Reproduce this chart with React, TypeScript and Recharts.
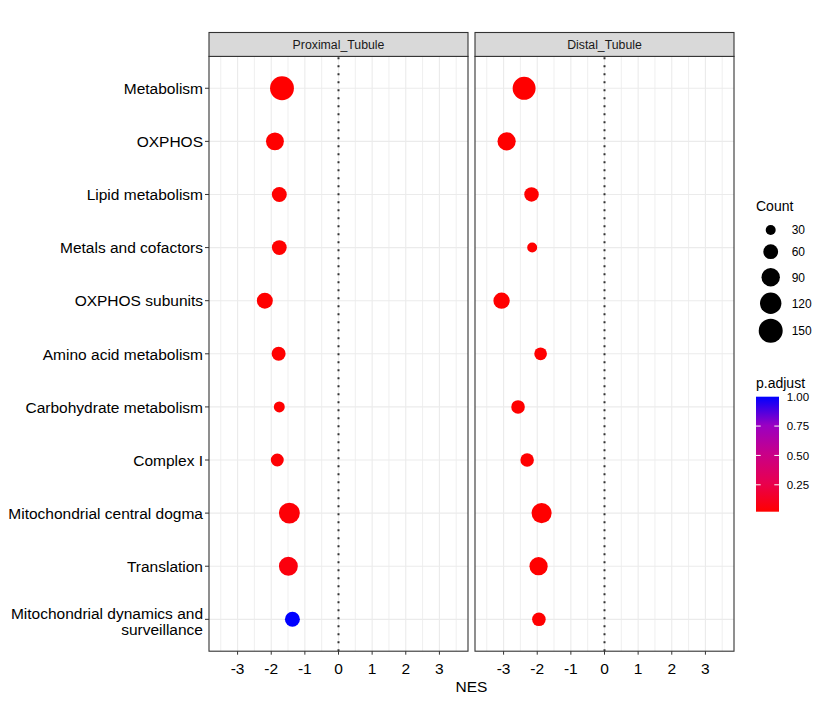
import { ScatterChart, Scatter, XAxis, YAxis, ZAxis, ReferenceLine, Cell } from 'recharts'

const terms = [
  'Metabolism',
  'OXPHOS',
  'Lipid metabolism',
  'Metals and cofactors',
  'OXPHOS subunits',
  'Amino acid metabolism',
  'Carbohydrate metabolism',
  'Complex I',
  'Mitochondrial central dogma',
  'Translation',
  'Mitochondrial dynamics and\nsurveillance',
]

const proximalNES = [-1.68, -1.89, -1.76, -1.76, -2.19, -1.78, -1.76, -1.82, -1.46, -1.49, -1.37]
const proximalCount = [148, 86, 61, 60, 69, 54, 35, 47, 115, 95, 61]
const proximalPadj = [0.021, 0.021, 0.022, 0.022, 0.021, 0.022, 0.025, 0.03, 0.04, 0.06, 1.0]

const distalNES = [-2.39, -2.91, -2.17, -2.15, -3.06, -1.9, -2.57, -2.3, -1.87, -1.96, -1.95]
const distalCount = [137, 86, 54, 25, 69, 41, 47, 47, 105, 86, 47]
const distalPadj = [0.021, 0.021, 0.022, 0.024, 0.021, 0.023, 0.022, 0.025, 0.022, 0.022, 0.025]

const xTicks = [-3, -2, -1, 0, 1, 2, 3]
const xGrid = [-3.5, -3, -2.5, -2, -1.5, -1, -0.5, 0, 0.5, 1, 1.5, 2, 2.5, 3, 3.5]
const countBreaks = [30, 60, 90, 120, 150]
const padjBreaks = [0.25, 0.5, 0.75, 1.0]

const panels = ['Proximal_Tubule', 'Distal_Tubule']

// ggplot red -> blue gradient (Lab interpolation, sampled)
const gradStops = ['#FF0000', '#E8004F', '#C90088', '#9A00C2', '#0000FF']
const padjMin = 0.021
const padjMax = 1.0

const hex = (c: string) => [1, 3, 5].map((i) => parseInt(c.slice(i, i + 2), 16))
const colorFor = (p: number) => {
  const t = Math.min(1, Math.max(0, (p - padjMin) / (padjMax - padjMin))) * (gradStops.length - 1)
  const i = Math.min(gradStops.length - 2, Math.floor(t))
  const f = t - i
  const a = hex(gradStops[i])
  const b = hex(gradStops[i + 1])
  const m = a.map((v, k) => Math.round(v + (b[k] - v) * f))
  return `rgb(${m[0]},${m[1]},${m[2]})`
}

const rows = terms.map((_, i) => i + 1)
const makeData = (nes: number[], count: number[], padj: number[]) =>
  terms.map((term, i) => ({ term, row: i + 1, nes: nes[i], count: count[i], padj: padj[i] }))

const proximalData = makeData(proximalNES, proximalCount, proximalPadj)
const distalData = makeData(distalNES, distalCount, distalPadj)

const sizeDomain = [30, 150]
const sizeRange = [78.5, 452.4]
const radiusFor = (c: number) =>
  Math.sqrt((sizeRange[0] + ((c - sizeDomain[0]) * (sizeRange[1] - sizeRange[0])) / (sizeDomain[1] - sizeDomain[0])) / Math.PI)

const FONT = "'Liberation Sans', Arial, sans-serif"
const PANEL_TOP = 56.4
const PANEL_BOTTOM = 651.2
const CHART_H = 701
const X_AXIS_H = 30

function TermTick(props: any) {
  const { x, y, payload } = props
  const label = terms[payload.value - 1] || ''
  const lines = label.split('\n')
  if (lines.length === 1) {
    return (
      <text x={x} y={y + 5.8} textAnchor="end" fontSize={15.5} fill="#000">
        {label}
      </text>
    )
  }
  return (
    <text x={x} y={y} textAnchor="end" fontSize={15.5} fill="#000">
      <tspan x={x} y={y - 0.5}>{lines[0]}</tspan>
      <tspan x={x} y={y + 16}>{lines[1]}</tspan>
    </text>
  )
}

function Panel({ data, width, showY }: { data: any[]; width: number; showY: boolean }) {
  return (
    <ScatterChart
      width={width}
      height={CHART_H}
      margin={{ top: PANEL_TOP, right: showY ? 2 : 0, bottom: CHART_H - PANEL_BOTTOM - X_AXIS_H, left: 0 }}
    >
      <XAxis
        type="number"
        dataKey="nes"
        domain={[-3.85, 3.85]}
        allowDataOverflow
        ticks={xTicks}
        interval={0}
        height={X_AXIS_H}
        axisLine={false}
        tickLine={{ stroke: '#333', strokeWidth: 1 }}
        tickSize={3.5}
        tickMargin={8}
        tick={{ fill: '#000', fontSize: 15.5 }}
      />
      <YAxis
        type="number"
        dataKey="row"
        domain={[0.4, 11.6]}
        allowDataOverflow
        reversed
        ticks={rows}
        interval={0}
        hide={!showY}
        width={showY ? 209 : 0}
        axisLine={false}
        tickLine={{ stroke: '#333', strokeWidth: 1 }}
        tickSize={4}
        tickMargin={2}
        tick={<TermTick />}
      />
      <ZAxis type="number" dataKey="count" domain={sizeDomain} range={sizeRange} />
      {xGrid.map((v) => (
        <ReferenceLine key={'v' + v} x={v} stroke="#EBEBEB" strokeWidth={Number.isInteger(v) ? 1.1 : 0.8} />
      ))}
      {rows.map((r) => (
        <ReferenceLine key={'h' + r} y={r} stroke="#EBEBEB" strokeWidth={1.1} />
      ))}
      <ReferenceLine x={0} stroke="#333" strokeWidth={2} strokeDasharray="2 6" />
      <Scatter data={data} isAnimationActive={false}>
        {data.map((d, i) => (
          <Cell key={i} fill={colorFor(d.padj)} />
        ))}
      </Scatter>
    </ScatterChart>
  )
}

function Overlay() {
  const barX = 756
  const barTop = 396.7
  const barH = 115
  const barW = 23
  const yFor = (v: number) => barTop + barH - ((v - padjMin) / (padjMax - padjMin)) * barH
  const countY = [230, 251.7, 277.3, 303.3, 330.7]
  const panelX = [209, 475]
  const panelW = 259
  return (
    <svg width={828} height={701} style={{ position: 'absolute', left: 0, top: 0, pointerEvents: 'none' }} fontFamily={FONT}>
      <defs>
        <linearGradient id="padjGrad" x1="0" y1="1" x2="0" y2="0">
          {gradStops.map((c, i) => (
            <stop key={i} offset={i / (gradStops.length - 1)} stopColor={c} />
          ))}
        </linearGradient>
      </defs>
      {panelX.map((x, i) => (
        <g key={i}>
          <rect x={x} y={PANEL_TOP} width={panelW} height={PANEL_BOTTOM - PANEL_TOP} fill="none" stroke="#333" strokeWidth={1.1} />
          <rect x={x} y={32.5} width={panelW} height={PANEL_TOP - 32.5} fill="#D9D9D9" stroke="#333" strokeWidth={1.1} />
          <text x={x + panelW / 2} y={48.8} textAnchor="middle" fontSize={12.3} fill="#1A1A1A">
            {panels[i]}
          </text>
        </g>
      ))}
      <text x={471.5} y={691.5} textAnchor="middle" fontSize={15.5} fill="#000">
        NES
      </text>

      <text x={756} y={210.7} fontSize={14} fill="#000">Count</text>
      {countBreaks.map((c, i) => (
        <g key={c}>
          <circle cx={770.7} cy={countY[i]} r={radiusFor(c)} fill="#000" />
          <text x={791.7} y={countY[i] + 4.3} fontSize={12} fill="#000">{c}</text>
        </g>
      ))}

      <text x={756} y={388.3} fontSize={14} fill="#000">p.adjust</text>
      <rect x={barX} y={barTop} width={barW} height={barH} fill="url(#padjGrad)" />
      {padjBreaks.map((v) => (
        <g key={v}>
          {v < 1 && (
            <>
              <line x1={barX} x2={barX + 4.7} y1={yFor(v)} y2={yFor(v)} stroke="#fff" strokeWidth={1} />
              <line x1={barX + barW - 4.7} x2={barX + barW} y1={yFor(v)} y2={yFor(v)} stroke="#fff" strokeWidth={1} />
            </>
          )}
          <text x={786.7} y={yFor(v) + 4.1} fontSize={11.5} fill="#000">{v.toFixed(2)}</text>
        </g>
      ))}
    </svg>
  )
}

export default function App() {
  return (
    <div style={{ position: 'absolute', left: 0, top: 0, width: 828, height: 701, background: '#fff', fontFamily: FONT }}>
      <div style={{ position: 'absolute', left: 0, top: 0 }}>
        <Panel data={proximalData} width={470} showY />
      </div>
      <div style={{ position: 'absolute', left: 475, top: 0 }}>
        <Panel data={distalData} width={259} showY={false} />
      </div>
      <Overlay />
    </div>
  )
}
